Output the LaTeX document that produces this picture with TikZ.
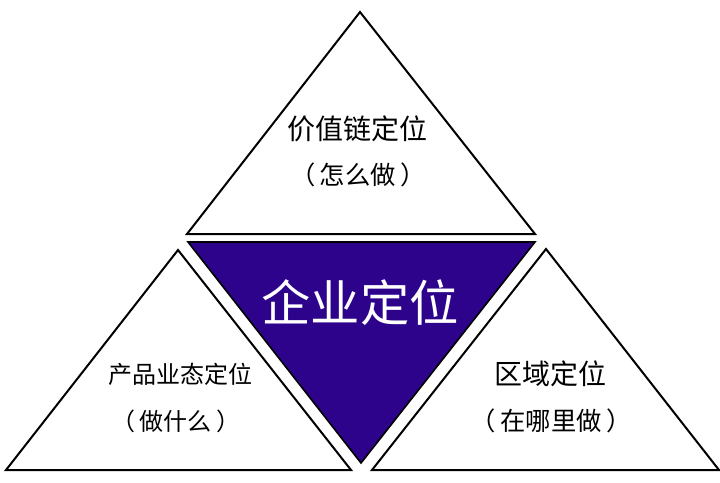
\documentclass[tikz,border=0pt]{standalone}
\usepackage{fontspec}
\setmainfont{Noto Sans CJK SC}
\definecolor{corepurple}{RGB}{46,3,140}
\newcommand{\lpar}{（\hspace{3.5pt}}
\newcommand{\rpar}{\hspace{3.5pt}）}
\tikzset{
  tri/.style={draw=black, line width=1.5pt, line join=miter, fill=white},
  coretri/.style={draw=black, line width=1.2pt, fill=corepurple},
  title/.style={font=\fontsize{21pt}{24pt}\selectfont, inner sep=0pt},
  sub/.style={font=\fontsize{19pt}{22pt}\selectfont, inner sep=0pt},
  ltitle/.style={font=\fontsize{18pt}{22pt}\selectfont, inner sep=0pt},
  coretext/.style={font=\fontsize{37pt}{40pt}\selectfont, text=white, inner sep=0pt}
}
\begin{document}
\begin{tikzpicture}[x=0.75pt, y=-0.75pt]
\useasboundingbox (0,0) rectangle (720,482);
% top triangle
\coordinate (tA) at (360,12);
\coordinate (tB) at (187,234);
\coordinate (tC) at (535,234);
\draw[tri] (tA) -- (tB) -- (tC) -- cycle;
% centre triangle
\coordinate (cA) at (188,242);
\coordinate (cB) at (535,242);
\coordinate (cC) at (361,463);
\draw[coretri] (cA) -- (cB) -- (cC) -- cycle;
% left triangle
\coordinate (lA) at (178,250);
\coordinate (lB) at (6,470);
\coordinate (lC) at (351,470);
\draw[tri] (lA) -- (lB) -- (lC) -- cycle;
% right triangle
\coordinate (rA) at (546,249);
\coordinate (rB) at (372,470);
\coordinate (rC) at (719,470);
\draw[tri] (rA) -- (rB) -- (rC) -- cycle;
% texts
\node[title] (t1) at (357,129) {价值链定位};
\node[sub] (t2) at (358,175) {\lpar 怎么做\rpar};
\node[coretext] (c1) at (360,303) {企业定位};
\node[ltitle] (l1) at (180,374) {产品业态定位};
\node[ltitle] (l2) at (176,421) {\lpar 做什么\rpar};
\node[title] (r1) at (550,374) {区域定位};
\node[sub] (r2) at (551,421) {\lpar 在哪里做\rpar};
\end{tikzpicture}
\end{document}
